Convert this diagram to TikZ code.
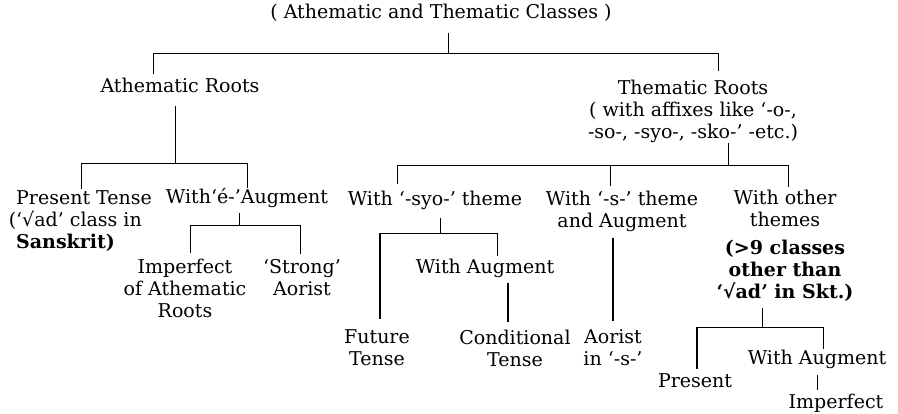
\documentclass[tikz,border=0pt]{standalone}
\usepackage{fontspec}
\setmainfont{DejaVu Serif}
\usetikzlibrary{calc}

\begin{document}
\begin{tikzpicture}[x=1pt,y=-1pt,
  lbl/.style={font=\fontsize{19}{22}\selectfont,align=center,inner sep=0pt},
  link/.style={line width=0.8pt},
  heavy/.style={line width=1.6pt}]
\useasboundingbox (0,0) rectangle (898,414);
% labels
\node[lbl] (top) at (441,13) {( Athematic and Thematic Classes )};
\node[lbl] (ath) at (180,85) {Athematic Roots};
\node[lbl] (them) at (693,111) {Thematic Roots\\( with affixes like ‘-o-,\\-so-, -syo-, -sko-’ -etc.)};
\node[lbl,align=left,anchor=west] (pres) at (16,221) {Present Tense\\\llap{(}‘√ad’ class in\\\textbf{Sanskrit)}};
\node[lbl] (aug) at (247,198) {With‘é-’Augment};
\node[lbl] (imp) at (185,288) {Imperfect\\of Athematic\\Roots};
\node[lbl] (str) at (302,278) {‘Strong’\\Aorist};
\node[lbl] (syo) at (435,200) {With ‘-syo-’ theme};
\node[lbl] (sth) at (622,211) {With ‘-s-’ theme\\and Augment};
\node[lbl] (oth) at (785,246) {With other\\themes\\[6pt]\textbf{(>9 classes}\\\textbf{other than}\\\textbf{‘√ad’ in Skt.)}};
\node[lbl] (wa1) at (485,268) {With Augment};
\node[lbl] (fut) at (377,348) {Future\\Tense};
\node[lbl] (cond) at (515,348) {Conditional\\Tense};
\node[lbl] (aor) at (613,348) {Aorist\\in ‘-s-’};
\node[lbl] (prs) at (695,381) {Present};
\node[lbl] (wa2) at (817,359) {With Augment};
\node[lbl] (impf) at (836,403) {Imperfect};
% bar joints
\coordinate (j0) at (448,53); \coordinate (j0a) at (153,53); \coordinate (j0b) at (718,53);
\coordinate (j1) at (175,163); \coordinate (j1a) at (81,163); \coordinate (j1b) at (247,163);
\coordinate (j2) at (239,225); \coordinate (j2a) at (190,225); \coordinate (j2b) at (300,225);
\coordinate (j3) at (728,165); \coordinate (j3a) at (397,165); \coordinate (j3b) at (610,165); \coordinate (j3c) at (788,165);
\coordinate (j4) at (440,233); \coordinate (j4a) at (380,233); \coordinate (j4b) at (497,233);
\coordinate (j5) at (762,327); \coordinate (j5a) at (697,327); \coordinate (j5b) at (823,327);
% tree lines
\foreach \n/\j/\g in {top/j0/11pt,ath/j1/13pt,aug/j2/5pt,them/j3/0pt,syo/j4/8pt,oth/j5/6pt}{\draw[link,shorten <=\g] (\n.south -| \j)--(\j);}
\foreach \a/\b in {j0a/j0b,j1a/j1b,j2a/j2b,j3a/j3c,j4a/j4b,j5a/j5b}{\draw[link] (\a)--(\b);}
\foreach \j/\n/\g in {j0a/ath/3pt,j0b/them/8pt,j1a/pres/1pt,j1b/aug/0pt,j2a/imp/5pt,j2b/str/6pt,j3a/syo/6pt,j3b/sth/4pt,j3c/oth/3pt,j4b/wa1/2.5pt,j5b/wa2/0pt}{\draw[link,shorten >=\g] (\j)--(\j |- \n.north);}
\foreach \j/\n/\g in {j4a/fut/11pt,j5a/prs/5pt}{\draw[heavy,shorten >=\g] (\j)--(\j |- \n.north);}
\draw[heavy,shorten <=6pt,shorten >=9pt] (sth.south -| aor.north)--(aor.north);
\draw[heavy,shorten <=5pt,shorten >=7pt] ([xshift=-7pt]cond.north |- wa1.south)--([xshift=-7pt]cond.north);
\draw[link,shorten <=6pt,shorten >=4pt] (wa2.south)--(wa2.south |- impf.north);
\end{tikzpicture}
\end{document}
